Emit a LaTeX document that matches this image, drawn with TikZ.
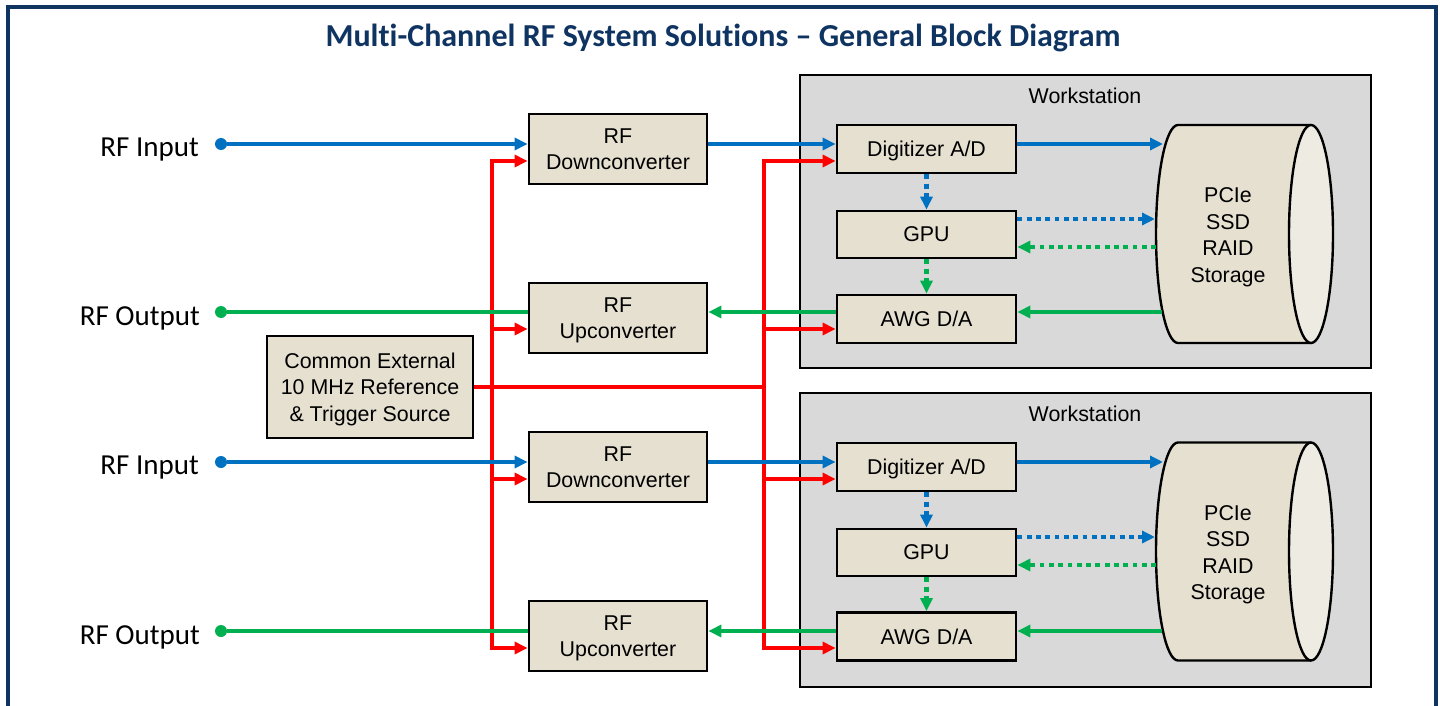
\documentclass[tikz,border=0pt]{standalone}
\usepackage{fontspec}
\setmainfont{Carlito}[Ligatures=NoCommon]
\newfontfamily\arial{Liberation Sans}
\usetikzlibrary{arrows.meta,calc}

\definecolor{navy}{HTML}{0F3462}
\definecolor{sigblue}{HTML}{0070C0}
\definecolor{siggreen}{HTML}{00B050}
\definecolor{sigred}{HTML}{FF0000}
\definecolor{boxfill}{HTML}{E5E0D0}
\definecolor{endfill}{HTML}{EEEBE2}
\definecolor{wsfill}{HTML}{D9D9D9}

\tikzset{
  blk/.style={draw=black, line width=2.8pt, fill=boxfill, inner sep=0pt, align=center,
    text depth=-5pt, font=\arial\fontsize{21.4}{26.5}\selectfont},
  rfbox/.style={blk, minimum width=178pt, minimum height=70pt},
  wsbox/.style={blk, minimum width=179pt, minimum height=48pt},
  wsframe/.style={draw=black, line width=2.4pt, fill=wsfill, minimum width=571pt, minimum height=294pt, inner sep=0pt},
  port/.style={circle, inner sep=0pt, minimum size=12pt},
  portlabel/.style={font=\fontsize{29}{34}\selectfont, anchor=east, inner sep=0pt},
  tip/.style={-{Triangle[length=13pt,width=12pt]}},
  sig/.style={line width=3.8pt},
  bl/.style={sig, draw=sigblue},
  gl/.style={sig, draw=siggreen},
  rl/.style={sig, draw=sigred},
  dotted line/.style={line width=4.2pt, dash pattern=on 4.8pt off 4.5pt},
  cyltext/.style={font=\arial\fontsize{21.4}{26.5}\selectfont, align=center, inner sep=0pt}
}

\begin{document}
\begin{tikzpicture}[x=1pt,y=-1pt]
\useasboundingbox (0,0) rectangle (1440,706);
\fill[white] (0,0) rectangle (1440,706);
\draw[navy, line width=3.5pt] (8,7) rectangle (1436,730);

\node[font=\bfseries\fontsize{32}{36}\selectfont, text=navy] (title) at (723,38)
  {Multi-Channel RF System Solutions -- General Block Diagram};

% signal rows
\coordinate (a1) at (0,144); \coordinate (r1) at (0,161);
\coordinate (g1) at (0,312); \coordinate (s1) at (0,329);
\coordinate (a2) at (0,462); \coordinate (r2) at (0,479);
\coordinate (g2) at (0,631); \coordinate (s2) at (0,648);
\coordinate (busL) at (492,0); \coordinate (busR) at (764,0);

% workstations
\node[wsframe, minimum height=293pt] (ws1) at (1085.5,221.5) {};
\node[wsframe] (ws2) at (1085.5,540) {};
\node[font=\arial\fontsize{21.4}{26.5}\selectfont] (wsl1) at (1085,96) {Workstation};
\node[font=\arial\fontsize{21.4}{26.5}\selectfont] (wsl2) at (1085,414) {Workstation};

% RF blocks
\node[rfbox] (down1) at (618,149) {RF\\Downconverter};
\node[rfbox] (up1) at (618,318) {RF\\Upconverter};
\node[rfbox] (down2) at (618,467) {RF\\Downconverter};
\node[rfbox] (up2) at (618,636) {RF\\Upconverter};
\node[blk, minimum width=206pt, minimum height=102pt] (ref) at (370,387)
  {Common External\\10 MHz Reference\\\& Trigger Source};

% workstation blocks
\node[wsbox] (dig1) at (926.5,149) {Digitizer A/D};
\node[wsbox, minimum height=47pt] (gpu1) at (926.5,234.5) {GPU};
\node[wsbox] (awg1) at (926.5,319) {AWG D/A};
\node[wsbox] (dig2) at (926.5,467) {Digitizer A/D};
\node[wsbox, minimum height=47pt] (gpu2) at (926.5,552.5) {GPU};
\node[wsbox] (awg2) at (926.5,636.5) {AWG D/A};

% storage cylinders
\foreach \cy/\nm in {234/cyl1, 551.5/cyl2}{
  \fill[boxfill] (1178,\cy-109) -- (1311,\cy-109)
    arc[start angle=270, end angle=450, x radius=22, y radius=109]
    -- (1178,\cy+109)
    arc[start angle=90, end angle=270, x radius=22, y radius=109] -- cycle;
  \draw[line width=2.4pt] (1311,\cy-109) -- (1178,\cy-109)
    arc[start angle=270, end angle=90, x radius=22, y radius=109]
    -- (1311,\cy+109);
  \draw[line width=2.4pt, fill=endfill] (1311,\cy) ellipse[x radius=22, y radius=109];
  \node[cyltext] (\nm) at (1228,\cy+3) {PCIe\\SSD\\RAID\\Storage};
}

% contact points on the storage cylinders
\coordinate (c1a) at (1163,144); \coordinate (c1b) at (1155,219);
\coordinate (c1c) at (1156,247); \coordinate (c1d) at (1162,312);
\coordinate (c2a) at (1163,462); \coordinate (c2b) at (1155,537);
\coordinate (c2c) at (1156,565); \coordinate (c2d) at (1162,631);

% ports
\node[port, fill=sigblue] (in1) at (221,144) {};
\node[port, fill=siggreen] (out1) at (221,312) {};
\node[port, fill=sigblue] (in2) at (221,462) {};
\node[port, fill=siggreen] (out2) at (221,631) {};
\node[portlabel] (lin1) at (199,150) {RF Input};
\node[portlabel] (lout1) at (200,318) {RF Output};
\node[portlabel] (lin2) at (199,468) {RF Input};
\node[portlabel] (lout2) at (200,637) {RF Output};

% reference distribution
\draw[rl] (ref.east) -- (ref.east -| busR);
\draw[rl, {Triangle[length=13pt,width=12pt]}-{Triangle[length=13pt,width=12pt]}]
  (down1.west |- r1) -| (busL |- s2) -- (up2.west |- s2);
\draw[rl, tip] (busL |- s1) -- (up1.west |- s1);
\draw[rl, tip] (busL |- r2) -- (down2.west |- r2);
\draw[rl, {Triangle[length=13pt,width=12pt]}-{Triangle[length=13pt,width=12pt]}]
  (dig1.west |- r1) -| (busR |- s2) -- (awg2.west |- s2);
\draw[rl, tip] (busR |- s1) -- (awg1.west |- s1);
\draw[rl, tip] (busR |- r2) -- (dig2.west |- r2);

% receive paths
\draw[bl, tip] (in1) -- (down1.west |- a1);
\draw[bl, tip] (down1.east |- a1) -- (dig1.west |- a1);
\draw[bl, tip] (dig1.east |- a1) -- (c1a);
\draw[bl, tip] (in2) -- (down2.west |- a2);
\draw[bl, tip] (down2.east |- a2) -- (dig2.west |- a2);
\draw[bl, tip] (dig2.east |- a2) -- (c2a);

% transmit paths
\draw[gl, tip] (c1d) -- (awg1.east |- g1);
\draw[gl, tip] (awg1.west |- g1) -- (up1.east |- g1);
\draw[gl] (up1.west |- g1) -- (out1);
\draw[gl, tip] (c2d) -- (awg2.east |- g2);
\draw[gl, tip] (awg2.west |- g2) -- (up2.east |- g2);
\draw[gl] (up2.west |- g2) -- (out2);

% processing paths inside the workstations
\foreach \d/\g/\a/\b/\c in {dig1/gpu1/awg1/c1b/c1c, dig2/gpu2/awg2/c2b/c2c}{
  \draw[dotted line, draw=sigblue, tip] (\d.south) -- (\g.north);
  \draw[dotted line, draw=siggreen, tip] (\g.south) -- (\a.north);
  \draw[dotted line, draw=sigblue, tip] (\g.east |- \b) -- (\b);
  \draw[dotted line, draw=siggreen, tip] (\c) -- (\g.east |- \c);
}
\end{tikzpicture}
\end{document}
